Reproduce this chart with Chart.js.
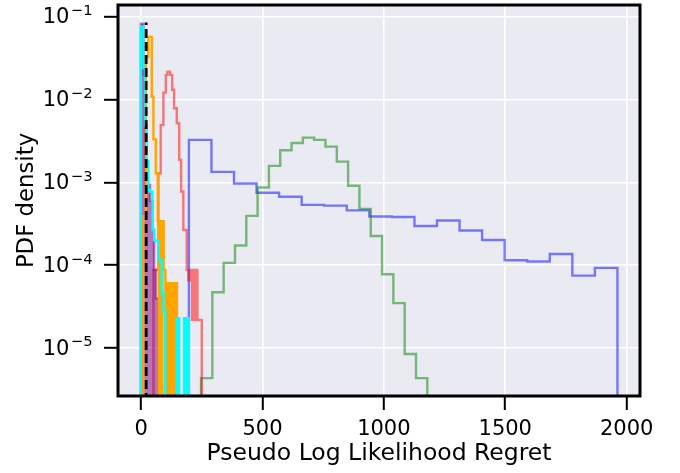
<!DOCTYPE html>
<html>
<head>
<meta charset="utf-8">
<script src="https://cdn.jsdelivr.net/npm/chart.js@4/dist/chart.umd.min.js"></script>
<style>
  html, body { margin: 0; padding: 0; background: #fff; }
  canvas { display: block; }
</style>
</head>
<body>
<canvas id="chart" width="680" height="473"></canvas>
<script>
// --- Axis ranges and ticks ---
const X_MIN = -95, X_MAX = 2055;
const Y_MIN = 2.65e-6, Y_MAX = 0.138;
const xTickValues = [0, 500, 1000, 1500, 2000];
const yTickValues = [1e-5, 1e-4, 1e-3, 1e-2, 1e-1];

// --- Histogram data (bin edges + PDF density per bin, 0 = empty bin) ---
// blue & green use regular bins
const blueStart = 197, blueBinWidth = 92.9;
const blueDensity = [3.26e-3, 1.34e-3, 9.7e-4, 7.5e-4, 6.7e-4, 5.35e-4, 5.25e-4, 4.6e-4, 3.87e-4, 3.83e-4,
                     2.98e-4, 3.47e-4, 2.63e-4, 2.02e-4, 1.15e-4, 1.11e-4, 1.37e-4, 7.5e-5, 9.3e-5];

const greenStart = 247, greenBinWidth = 46.6;
const greenDensity = [4.35e-6, 4.73e-5, 1.07e-4, 1.73e-4, 3.94e-4, 8.66e-4, 1.58e-3, 2.44e-3, 2.99e-3, 3.47e-3,
                      3.26e-3, 2.70e-3, 1.78e-3, 9.1e-4, 4.79e-4, 2.26e-4, 7.8e-5, 3.5e-5, 8.5e-6, 4.35e-6];

const redEdges = [51, 71.5, 81, 92, 102, 108.5, 119.6, 128, 136, 147, 157, 165, 174, 188, 195, 205, 210, 215, 220, 225, 232, 250];
const redDensity = [8.8e-5, 1.29e-3, 4.94e-3, 1.21e-2, 1.98e-2, 2.17e-2, 1.98e-2, 1.31e-2, 7.85e-3, 5.18e-3, 1.87e-3,
                    7.75e-4, 2.67e-4, 8.8e-5, 6.6e-5, 8.8e-5, 2.2e-5, 8.8e-5, 2.2e-5, 8.8e-5, 2.19e-5];

const purpleEdges = [-1, 9.6, 16.5, 37, 46.7, 53.6, 61, 73];
const purpleDensity = [0.082, 0.02, 9.3e-4, 6e-4, 2.67e-4, 8.8e-5, 4e-5];

const orangeEdges = [9.6, 19.4, 30, 44, 51, 60.6, 68.7, 73, 78, 83, 88, 93, 100, 107, 112, 117, 122, 128, 133, 138, 143, 148];
const orangeDensity = [3.9e-4, 0.033, 0.057, 0.0108, 3.3e-3, 1.29e-3, 3.4e-4, 0, 3.4e-4, 0, 3.4e-4, 8.8e-5, 0,
                       6.1e-5, 0, 6.1e-5, 0, 6.1e-5, 0, 6.1e-5, 6.1e-5];

const cyanEdges = [-1, 9.6, 16.5, 23, 30, 37, 46.7, 53.6, 71.5, 85, 92, 100, 147, 157, 177, 182, 187, 192, 197];
const cyanDensity = [0.076, 0.024, 4.9e-3, 1.8e-3, 8.1e-4, 7.7e-4, 2.67e-4, 2.0e-4, 1.17e-4, 4.6e-5, 2.8e-5, 0,
                     2.3e-5, 0, 2.3e-5, 0, 2.3e-5, 2.3e-5];

// black dashed reference line
const refX = 21, refTop = 0.085;

const FONT = '"DejaVu Sans", sans-serif';
const FLOOR = 1e-8; // below the visible range, used for empty bins
const LINE_W = 2.4;

function regularEdges(start, width, n) {
    const edges = [];
    for (let i = 0; i <= n; i++) edges.push(start + i * width);
    return edges;
}

// turn bins into step outline points
function stepPoints(edges, dens) {
    const pts = [{ x: edges[0], y: FLOOR }];
    dens.forEach((d, i) => {
        const v = d > 0 ? d : FLOOR;
        pts.push({ x: edges[i], y: v }, { x: edges[i + 1], y: v });
    });
    pts.push({ x: edges[edges.length - 1], y: FLOOR });
    return pts;
}

function stepSet(edges, dens, color, order, extra) {
    return Object.assign({
        data: stepPoints(edges, dens),
        borderColor: color,
        borderWidth: LINE_W,
        fill: false,
        pointRadius: 0,
        tension: 0,
        order: order
    }, extra || {});
}

// --- Plugins: axes background, frame, 10^n tick labels ---
const axesPlugin = {
    id: 'axesLook',
    beforeDraw(chart) {
        const { ctx, chartArea: a } = chart;
        ctx.save();
        ctx.fillStyle = '#EAEAF2';
        ctx.fillRect(a.left, a.top, a.right - a.left, a.bottom - a.top);
        ctx.restore();
    },
    afterDraw(chart) {
        const { ctx, chartArea: a } = chart;
        const yScale = chart.scales.y;
        ctx.save();
        ctx.strokeStyle = '#000';
        ctx.lineWidth = 3;
        ctx.strokeRect(a.left, a.top, a.right - a.left, a.bottom - a.top);

        // log tick labels drawn as base + raised exponent
        ctx.fillStyle = '#000';
        ctx.textAlign = 'right';
        ctx.textBaseline = 'alphabetic';
        const right = 92.5;
        yTickValues.forEach(v => {
            const y = yScale.getPixelForValue(v);
            const exp = '\u2212' + Math.abs(Math.round(Math.log10(v)));
            ctx.font = '14.7px ' + FONT;
            const expW = ctx.measureText(exp).width;
            ctx.fillText(exp, right, y - 1.7);
            ctx.font = '21px ' + FONT;
            ctx.fillText('10', right - expW - 1.5, y + 6.7);
        });
        ctx.restore();
    }
};

const datasets = [
    stepSet(regularEdges(blueStart, blueBinWidth, blueDensity.length), blueDensity, 'rgba(0,0,255,0.5)', 7),
    stepSet(regularEdges(greenStart, greenBinWidth, greenDensity.length), greenDensity, 'rgba(0,128,0,0.5)', 6),
    stepSet(redEdges, redDensity, 'rgba(255,0,0,0.5)', 5),
    stepSet(purpleEdges, purpleDensity, 'rgba(128,0,128,0.5)', 4, { fill: 'start', backgroundColor: 'rgba(128,0,128,0.5)' }),
    stepSet(orangeEdges, orangeDensity, '#FFA500', 3),
    stepSet(cyanEdges, cyanDensity, '#00FFFF', 2),
    {
        data: [{ x: refX, y: FLOOR }, { x: refX, y: refTop }],
        borderColor: '#000',
        borderWidth: 2.8,
        borderDash: [9, 4],
        pointRadius: 0,
        fill: false,
        order: 1
    }
];

new Chart(document.getElementById('chart'), {
    type: 'line',
    data: { datasets: datasets },
    plugins: [axesPlugin],
    options: {
        responsive: false,
        animation: false,
        devicePixelRatio: 1,
        layout: { padding: { top: 5, right: 40, left: 0, bottom: 0 } },
        plugins: { legend: { display: false }, tooltip: { enabled: false } },
        scales: {
            x: {
                type: 'linear',
                min: X_MIN,
                max: X_MAX,
                afterBuildTicks: s => { s.ticks = xTickValues.map(v => ({ value: v })); },
                afterFit: s => { s.height = 77; s.paddingLeft = 0; s.paddingRight = 0; },
                border: { display: false },
                grid: { color: '#FFFFFF', lineWidth: 1.6, tickColor: '#000', tickWidth: 2, tickLength: 14 },
                ticks: {
                    color: '#000', padding: 7, maxRotation: 0, autoSkip: false,
                    font: { family: FONT, size: 21 },
                    callback: v => String(v)
                },
                title: {
                    display: true, text: 'Pseudo Log Likelihood Regret', color: '#000',
                    font: { family: FONT, size: 23.5 }, padding: { top: 0, bottom: 5 }
                }
            },
            y: {
                type: 'logarithmic',
                min: Y_MIN,
                max: Y_MAX,
                afterBuildTicks: s => { s.ticks = yTickValues.map(v => ({ value: v })); },
                afterFit: s => { s.width = 118; s.paddingTop = 0; s.paddingBottom = 0; },
                border: { display: false },
                grid: { color: '#FFFFFF', lineWidth: 1.6, tickColor: '#000', tickWidth: 2, tickLength: 14 },
                ticks: { display: false },
                title: {
                    display: true, text: 'PDF density', color: '#000',
                    font: { family: FONT, size: 22.8 }, padding: { top: 13.3, bottom: 0 }
                }
            }
        }
    }
});
</script>
</body>
</html>
